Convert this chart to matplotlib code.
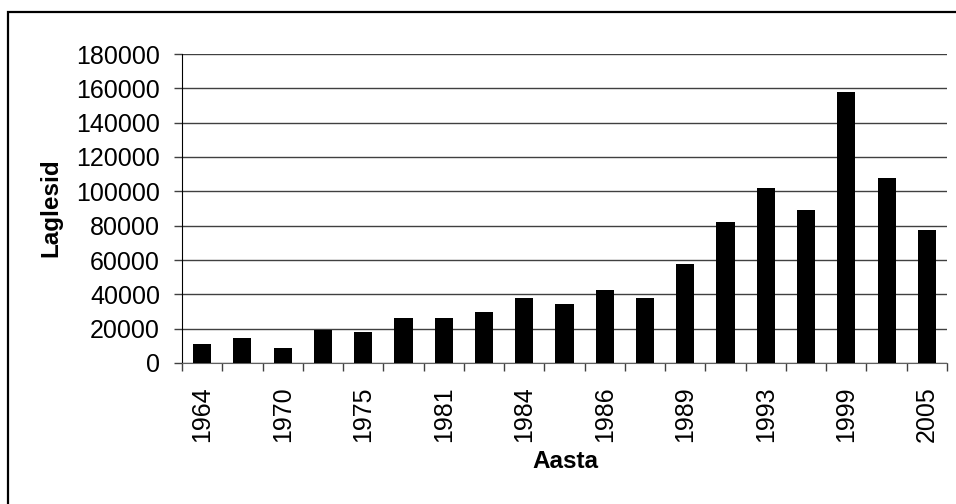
import numpy as np
import matplotlib
matplotlib.use('Agg')
import matplotlib.pyplot as plt
from matplotlib.patches import Rectangle

plt.rcParams['font.family'] = ['Liberation Sans', 'DejaVu Sans']

# values (one bar per year, only every second year labelled)
values = [11000, 14500, 8700, 19000, 18000, 26200, 26200, 29700, 37900, 34400,
          42500, 37900, 57700, 82300, 101900, 89300, 158000, 107900, 77600]
shown_years = ['1964', '1970', '1975', '1981', '1984', '1986', '1989', '1993', '1999', '2005']
y_ticks = [0, 20000, 40000, 60000, 80000, 100000, 120000, 140000, 160000, 180000]

W, H = 956, 504
PX = 72 / 100  # points per pixel at dpi 100
fig = plt.figure(figsize=(W / 100, H / 100), dpi=100)
ax = fig.add_axes([182 / W, 1 - 363 / H, 765 / W, 309 / H])

x = np.arange(len(values))
ax.bar(x, values, width=0.45, color='black', zorder=3)

ax.set_xlim(-0.5, len(values) - 0.5)
ax.set_ylim(0, 180000)
ax.set_yticks(y_ticks)
ax.set_yticklabels([str(v) for v in y_ticks], fontsize=18)
ax.tick_params(axis='y', direction='out', length=8 * PX, width=1, pad=14 * PX, color='#404040')

# labels at every other bar, tick marks at category boundaries
ax.set_xticks(x[::2])
ax.set_xticklabels(shown_years, rotation=90, fontsize=18)
ax.tick_params(axis='x', which='major', length=0, pad=23 * PX)
ax.set_xticks(np.arange(len(values) + 1) - 0.5, minor=True)
ax.tick_params(axis='x', which='minor', direction='out', length=8 * PX, width=1, color='#404040')

ax.grid(axis='y', color='#404040', linewidth=1, zorder=0)
ax.spines['top'].set_visible(False)
ax.spines['right'].set_visible(False)
ax.spines['left'].set_color('black')
ax.spines['bottom'].set_color('#606060')

fig.text(51 / W, 1 - 208 / H, 'Laglesid', rotation=90, ha='center', va='center',
         fontsize=17.5, fontweight='bold')
fig.text(565 / W, 1 - 462 / H, 'Aasta', ha='center', va='center',
         fontsize=17.5, fontweight='bold')

# outer chart border (runs off the right and bottom edges)
fig.patches.append(Rectangle((8 / W, -0.05), 1.0, 1 - 12 / H + 0.05,
                             transform=fig.transFigure, fill=False,
                             edgecolor='black', linewidth=1.6))

fig.savefig('out.png', dpi=100)
